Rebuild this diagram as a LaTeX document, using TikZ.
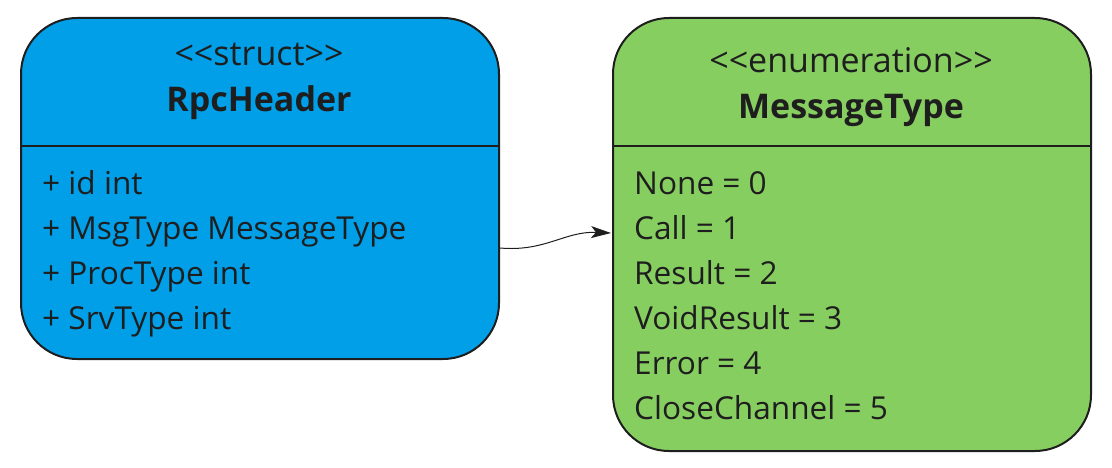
\documentclass[tikz,border=0pt]{standalone}
\usepackage{fontspec}
\setmainfont{Open Sans}
\usetikzlibrary{arrows.meta}
\definecolor{bluefill}{HTML}{009FE8}
\definecolor{greenfill}{HTML}{87CE61}
\definecolor{ink}{HTML}{1E1E1E}
\begin{document}
\begin{tikzpicture}[x=1pt,y=-1pt,
  cls/.style={draw=ink,line width=2pt,rounded corners=56pt,anchor=north west,inner sep=0pt},
  stereo/.style={font=\fontsize{34}{40}\selectfont,text=ink,inner sep=0pt,anchor=base},
  title/.style={font=\fontsize{34}{40}\bfseries\selectfont,text=ink,inner sep=0pt,anchor=base},
  attr/.style={font=\fontsize{31.6}{38}\selectfont,text=ink,anchor=base west,inner sep=0pt},
  divider/.style={draw=ink,line width=1.2pt}]
\useasboundingbox (0,0) rectangle (1112,468);
\node[cls,fill=bluefill,minimum width=478pt,minimum height=341pt] (rpc) at (20,17) {};
\node[cls,fill=greenfill,minimum width=478pt,minimum height=433pt] (msg) at (612,17) {};
\draw[divider] (rpc.west |- 0,146) -- (rpc.east |- 0,146);
\draw[divider] (msg.west |- 0,146) -- (msg.east |- 0,146);
\node[stereo] (rs) at (259,66) {<{}<struct>{}>};
\node[title] (rt) at (259,112) {RpcHeader};
\node[stereo] (ms) at (851,73) {<{}<enumeration>{}>};
\node[title] (mt) at (851,119) {MessageType};
\node[attr] (a1) at (42,195) {+ id int};
\node[attr] (a2) at (42,240) {+ MsgType MessageType};
\node[attr] (a3) at (42,284) {+ ProcType int};
\node[attr] (a4) at (42,329) {+ SrvType int};
\node[attr] (e0) at (634,195) {None = 0};
\node[attr] (e1) at (634,240) {Call = 1};
\node[attr] (e2) at (634,284) {Result = 2};
\node[attr] (e3) at (634,329) {VoidResult = 3};
\node[attr] (e4) at (634,374) {Error = 4};
\node[attr] (e5) at (634,419) {CloseChannel = 5};
\coordinate (src) at (500,248);
\coordinate (dst) at (611,233);
\draw[ink,line width=1pt,-{Stealth[length=20pt,width=12pt,inset=5pt]}] (src) .. controls (545,252) and (565,231) .. (dst);
\end{tikzpicture}
\end{document}
